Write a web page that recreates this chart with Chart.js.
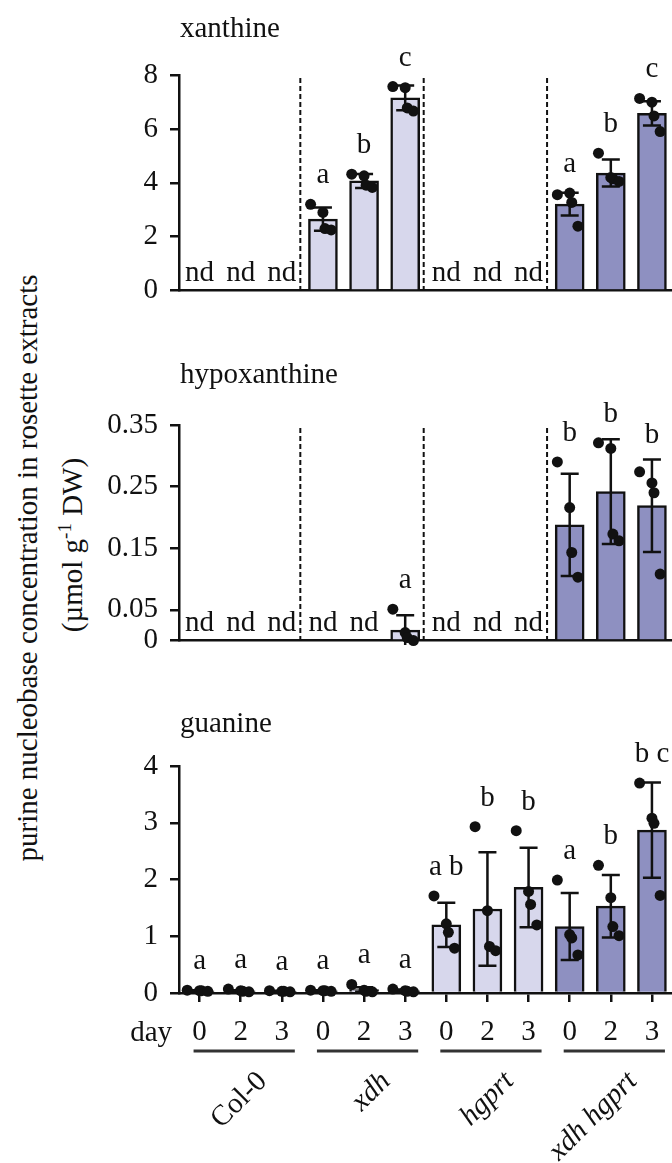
<!DOCTYPE html>
<html>
<head>
<meta charset="utf-8">
<script src="https://cdn.jsdelivr.net/npm/chart.js@4.4.1/dist/chart.umd.min.js"></script>
<style>
  body { margin: 0; background: #fff; overflow: hidden; }
  #wrap { position: relative; width: 672px; height: 1163px; overflow: hidden; font-family: "Liberation Serif", serif; color: #111; }
  canvas { position: absolute; left: 0; }
  .ytitle { position: absolute; width: 640px; text-align: center; font-size: 29px; line-height: 34px; white-space: nowrap; transform: rotate(-90deg); transform-origin: center; }
  .ytitle sup { font-size: 19px; line-height: 0; vertical-align: 11px; }
</style>
</head>
<body>
<div id="wrap">
  <div class="ytitle" id="yt1">purine nucleobase concentration in rosette extracts</div>
  <div class="ytitle" id="yt2">(µmol g<sup>-1</sup> DW)</div>
  <canvas id="xan" width="678" height="320" style="top:0px"></canvas>
  <canvas id="hyp" width="678" height="340" style="top:330px"></canvas>
  <canvas id="gua" width="678" height="483" style="top:680px"></canvas>
</div>
<script>
// 4 genotypes x 3 sampling days
const genotypes = ["Col-0", "xdh", "hgprt", "xdh hgprt"];
const dayLabels = ["0", "2", "3", "0", "2", "3", "0", "2", "3", "0", "2", "3"];

// xanthine (µmol/g DW)
const xanMean = [null, null, null, 2.65, 4.07, 7.15, null, null, null, 3.21, 4.36, 6.58];
const xanSd = [null, null, null, 0.43, 0.26, 0.46, null, null, null, 0.42, 0.5, 0.45];
const xanDots = [[], [], [], [3.2, 2.9, 2.3, 2.25], [4.32, 4.26, 3.91, 3.83], [7.57, 7.53, 6.78, 6.66],
  [], [], [], [3.56, 3.62, 3.27, 2.39], [5.1, 4.2, 4.15, 4.05], [7.13, 6.99, 6.48, 5.9]];
const xanLetters = ["nd", "nd", "nd", "a", "b", "c", "nd", "nd", "nd", "a", "b", "c"];
const xanTicks = [0, 2, 4, 6, 8];

// hypoxanthine
const hypMean = [null, null, null, null, null, 0.017, null, null, null, 0.188, 0.242, 0.219];
const hypSd = [null, null, null, null, null, 0.024, null, null, null, 0.083, 0.085, 0.075];
const hypDots = [[], [], [], [], [], [0.051, 0.013, 0.005, 0], [], [], [],
  [0.29, 0.216, 0.143, 0.103], [0.321, 0.312, 0.173, 0.162], [0.274, 0.256, 0.24, 0.108]];
const hypLetters = ["nd", "nd", "nd", "nd", "nd", "a", "nd", "nd", "nd", "b", "b", "b"];
const hypTicks = [0, 0.05, 0.15, 0.25, 0.35];

// guanine
const guaMean = [0.04, 0.04, 0.03, 0.04, 0.06, 0.04, 1.2, 1.48, 1.86, 1.17, 1.53, 2.87];
const guaSd = [0.01, 0.01, 0.01, 0.01, 0.04, 0.02, 0.39, 1.0, 0.7, 0.59, 0.55, 0.84];
const guaDots = [[0.05, 0.04, 0.04, 0.03], [0.07, 0.04, 0.03, 0.02], [0.04, 0.03, 0.03, 0.02],
  [0.05, 0.04, 0.04, 0.03], [0.15, 0.05, 0.03, 0.02], [0.07, 0.04, 0.03, 0.02],
  [1.71, 1.22, 1.07, 0.79], [2.93, 1.45, 0.82, 0.745], [2.86, 1.79, 1.56, 1.2],
  [1.99, 1.03, 0.97, 0.67], [2.25, 1.68, 1.17, 1.01], [3.7, 3.08, 2.99, 1.72]];
const guaLetters = ["a", "a", "a", "a", "a", "a", "a b", "b", "b", "a", "b", "b c"];
const guaTicks = [0, 1, 2, 3, 4];

const ink = "#111";
const font = "29px 'Liberation Serif', serif";
const barColors = ["#ffffff", "#d7d7ec", "#d7d7ec", "#8e90c1"];
const jitter = [-0.3, 0, 0.05, 0.2];

Chart.defaults.font.family = "'Liberation Serif', serif";
Chart.defaults.font.size = 29;
Chart.defaults.color = ink;

// y-axis title
function placeTitle(el, cx, cy) {
  el.style.left = (cx - 320) + "px";
  el.style.top = (cy - 17) + "px";
}
placeTitle(document.getElementById("yt1"), 27, 568);
placeTitle(document.getElementById("yt2"), 72, 545);

function panelPlugin(p) {
  return {
    id: "panel",
    beforeDatasetsDraw(chart) {
      const { ctx, chartArea: a, scales: { x } } = chart;
      ctx.save();
      ctx.font = font;
      ctx.fillStyle = ink;
      ctx.textBaseline = "middle";
      ctx.fillText(p.title, a.left + 1, p.titleY);
      if (p.separators) {
        ctx.strokeStyle = ink;
        ctx.lineWidth = 2;
        ctx.setLineDash([5, 3]);
        for (let g = 1; g < genotypes.length; g++) {
          const px = x.getPixelForValue(g * 3 - 0.55);
          ctx.beginPath();
          ctx.moveTo(px, a.top + 3);
          ctx.lineTo(px, a.bottom);
          ctx.stroke();
        }
      }
      ctx.restore();
    },
    afterDatasetDraw(chart, args) {
      if (args.index !== 0) return;
      const { ctx, scales: { x, y } } = chart;
      ctx.save();
      ctx.strokeStyle = ink;
      ctx.lineWidth = 2.5;
      p.mean.forEach((m, i) => {
        if (m === null) return;
        const px = x.getPixelForValue(i);
        const hi = y.getPixelForValue(m + p.sd[i]);
        const lo = y.getPixelForValue(m - p.sd[i]);
        ctx.beginPath();
        ctx.moveTo(px, hi); ctx.lineTo(px, lo);
        ctx.moveTo(px - 9, hi); ctx.lineTo(px + 9, hi);
        if (m - p.sd[i] >= 0) { ctx.moveTo(px - 9, lo); ctx.lineTo(px + 9, lo); }
        ctx.stroke();
      });
      ctx.restore();
    },
    afterDatasetsDraw(chart) {
      const { ctx, chartArea: a, scales: { x, y } } = chart;
      ctx.save();
      ctx.font = font;
      ctx.fillStyle = ink;
      ctx.textAlign = "center";
      ctx.textBaseline = "alphabetic";
      p.letters.forEach((t, i) => {
        const px = x.getPixelForValue(i);
        if (t === "nd") {
          ctx.fillText(t, px, y.getPixelForValue(0) - 10);
          return;
        }
        let top = y.getPixelForValue(p.mean[i] + p.sd[i]);
        p.dots[i].forEach(v => { top = Math.min(top, y.getPixelForValue(v) - 5); });
        ctx.fillText(t, px, top - 16);
      });
      if (p.groups) {
        ctx.textAlign = "right";
        ctx.textBaseline = "middle";
        ctx.fillText("day", a.left - 7, a.bottom + 40);
        ctx.strokeStyle = "#333";
        ctx.lineWidth = 3;
        genotypes.forEach((g, k) => {
          const x0 = x.getPixelForValue(k * 3) - 6;
          const x2 = x.getPixelForValue(k * 3 + 2) + 13;
          ctx.beginPath();
          ctx.moveTo(x0, a.bottom + 58);
          ctx.lineTo(x2, a.bottom + 58);
          ctx.stroke();
          const mid = x.getPixelForValue(k * 3 + 1);
          ctx.save();
          ctx.translate(mid + 22, a.bottom + 84);
          ctx.rotate(-Math.PI / 4);
          ctx.font = (k === 0 ? "" : "italic ") + font;
          ctx.fillText(g, 0, 0);
          ctx.restore();
        });
      }
      ctx.restore();
    }
  };
}

function makePanel(id, p) {
  const bars = p.mean.map((v, i) => ({ x: i, y: v }));
  const dots = [];
  p.dots.forEach((list, i) => list.forEach((v, k) => dots.push({ x: i + jitter[k], y: v })));
  return new Chart(document.getElementById(id), {
    type: "bar",
    data: {
      datasets: [
        {
          data: bars,
          order: 2,
          backgroundColor: p.mean.map((v, i) => barColors[Math.floor(i / 3)]),
          borderColor: ink,
          borderWidth: 2.5,
          barThickness: 29,
        },
        {
          type: "scatter",
          data: dots,
          order: 0,
          clip: false,
          pointRadius: 5.5,
          pointBackgroundColor: ink,
          pointBorderWidth: 0,
        },
      ],
    },
    options: {
      responsive: false,
      animation: false,
      layout: { padding: { top: p.padTop, bottom: p.padBottom, left: 59, right: 1 } },
      plugins: { legend: { display: false }, tooltip: { enabled: false } },
      scales: {
        x: {
          type: "linear",
          min: -0.5,
          max: 11.5,
          offset: false,
          afterBuildTicks: s => { s.ticks = dayLabels.map((d, i) => ({ value: i })); },
          afterFit: s => { s.height = p.groups ? 60 : 0; },
          ticks: {
            display: p.groups,
            autoSkip: false,
            maxRotation: 0,
            padding: 13,
            callback: v => dayLabels[v],
          },
          grid: {
            display: p.groups,
            offset: false,
            drawOnChartArea: false,
            tickLength: 9,
            lineWidth: 2.5,
            color: ink,
          },
          border: { color: ink, width: 2.5 },
        },
        y: {
          min: p.ticks[0],
          max: p.ticks[p.ticks.length - 1],
          afterBuildTicks: s => { s.ticks = p.ticks.map(v => ({ value: v })); },
          afterFit: s => { s.width = 120; },
          ticks: { padding: 12, callback: v => String(v) },
          grid: { drawOnChartArea: false, tickLength: 9, lineWidth: 2.5, color: ink },
          border: { color: ink, width: 2.5 },
        },
      },
    },
    plugins: [panelPlugin(p)],
  });
}

makePanel("xan", { title: "xanthine", titleY: 29, mean: xanMean, sd: xanSd, dots: xanDots,
  letters: xanLetters, ticks: xanTicks, separators: true, groups: false, padTop: 75, padBottom: 17 });
makePanel("hyp", { title: "hypoxanthine", titleY: 45, mean: hypMean, sd: hypSd, dots: hypDots,
  letters: hypLetters, ticks: hypTicks, separators: true, groups: false, padTop: 95, padBottom: 18 });
makePanel("gua", { title: "guanine", titleY: 44, mean: guaMean, sd: guaSd, dots: guaDots,
  letters: guaLetters, ticks: guaTicks, separators: false, groups: true, padTop: 86, padBottom: 110 });
</script>
</body>
</html>
